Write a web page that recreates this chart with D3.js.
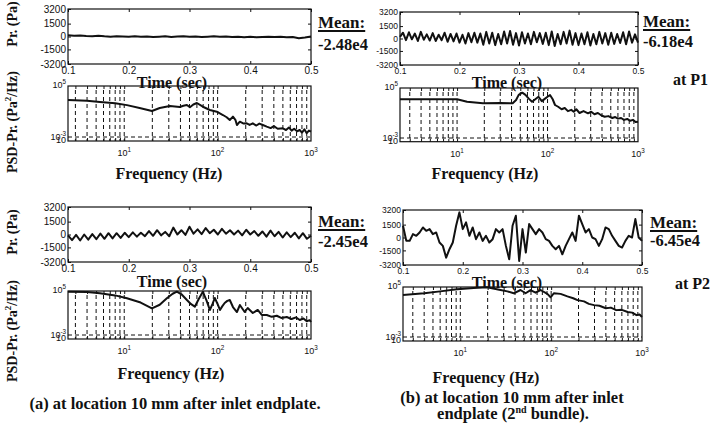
<!DOCTYPE html>
<html>
<head>
<meta charset="utf-8">
<title>Pressure fluctuation and PSD</title>
<script src="https://cdn.jsdelivr.net/npm/d3@7/dist/d3.min.js"></script>
<style>
  body { margin: 0; background: #fff; }
  svg { display: block; }
</style>
</head>
<body>
<svg id="chart" width="718" height="426"></svg>
<script>
// ---- data ----
var timeTicks = [0.1, 0.2, 0.3, 0.4, 0.5];
var presTicks = [-3200, -1500, 0, 1500, 3200];
var freqLabels = [10, 100, 1000];
var meanLabels = ['-2.48e4', '-6.18e4', '-2.45e4', '-6.45e4'];
var pointLabels = ['at P1', 'at P2'];

// pressure (Pa), equally spaced samples from 0.1 s to 0.5 s
var presA1 = [150, 100, 120, 60, 40, 80, 20, -20, 30, 0, -40, 20, -30, 10, -60, -20, 30, -50, -10, 40,
  -30, 0, -60, -20, 20, -40, 10, -60, -30, -80, -40, -90, -50, -20, -70, -40, -80, -60, -200, -120, 0];
var presB1 = [200, 700, -200, 750, -100, 600, -300, 800, -150, 500, -250,
  650, -300, 450, -200, 700, -400, 550, -350, 600, -500,
  450, -600, 650, -450, 700, -500, 600, -750, 800, -600,
  700, -800, 550, -700, 850, -600, 900, -750, 650, -850,
  750, -600, 600, -700, 800, -450, 650, -650, 700, -800,
  850, -900, 550, -700, 800, -600, 950, -750, 650, -800,
  600, -700, 750, -850, 550, -700, 800, -600, 650, -750,
  700, -650, 550, -550, 750, -700, 850, -500, 500, -500];
var presA2 = [-100, -650, -50, -700, 0, -600, 50, -550, 100, -500, 150, -450, 150, -400, 200, -300, 250, -250, 200, -200,
  400, -150, 500, -100, 300, -200, 800, 0, 500, -50, 900, 100, 600, 50, 750, 150, 550, 0, 650, 100,
  500, 0, 450, -100, 550, 0, 400, -150, 350, -250, 450, -200, 300, -350, 250, -300, 200, -450, 150, -500, -150];
var presB2 = [1365, -390, -390, 390, 195, 585, 1170, 780, 975, 390,
  585, -585, -975, -2340, -1365, -585, 1365, 2925, 975, 1755,
  195, 1170, -195, 585, -390, 195, -585, -195, 975, 585,
  975, -975, -2535, 1365, 2535, -2730, 975, -1755, 1560, 975,
  390, 975, 585, -195, -390, -975, -1365, -975, -1950, -975,
  -195, 585, -390, 2535, 1560, 585, 975, 0, -195, -975,
  -195, 1170, 975, 195, -390, -975, -1170, -390, 195, 0,
  2145, 0, -390];

// PSD: frequency (Hz) and log10 of PSD (Pa^2/Hz)
var freqA1 = [2.5, 4, 5.5, 8, 10.7, 15, 19.8, 24, 30.8, 39.4, 43, 46.9, 50.5, 55, 60, 69.5, 82.6, 98, 114, 125,
  135, 146, 155, 161, 173, 190, 205, 220, 238, 260, 280, 305, 336, 370, 400, 440, 499, 540, 580, 620,
  660, 710, 757, 800, 850, 900, 950, 1000];
var psdA1 = [2.8, 2.7, 2.5, 2.3, 2.0, 1.5, 1.08, 1.55, 1.86, 1.71, 1.9, 2.02, 1.66, 2.1, 2.33, 1.75, 1.24, 0.97, 0.45, 0.1,
  -0.33, 0.19, -0.3, -1.12, -0.6, -0.9, -0.86, -1.1, -0.86, -1.2, -0.9, -1.12, -1.38, -1.6, -1.3, -1.7, -1.64, -1.9, -1.5, -2.0,
  -1.7, -2.1, -1.9, -2.3, -1.8, -2.4, -2.0, -2.17];
var freqB1 = [2.34, 4, 6, 10, 12.9, 19.3, 30, 41.2, 44.9, 48, 52.6, 57, 62, 67.4, 73.2, 79.5, 86.4, 93.9, 100, 106.5,
  114, 121, 131, 143, 155, 168, 183, 195, 208, 226, 250, 280, 304, 330, 360, 395, 428, 470, 520, 560,
  601, 650, 700, 760, 820, 880, 940, 1000];
var psdB1 = [3.19, 3.19, 3.19, 3.19, 2.81, 2.55, 2.6, 2.55, 3.08, 3.9, 4.25, 3.9, 3.3, 2.8, 3.2, 3.6, 2.9, 3.3, 3.6, 3.88,
  3.2, 2.28, 2.0, 1.6, 1.8, 1.3, 1.5, 1.2, 1.6, 1.0, 1.3, 0.95, 1.2, 0.8, 1.0, 0.6, 0.4, 0.5, 0.2, 0.35,
  0.1, 0.2, -0.1, 0.05, -0.25, -0.1, -0.45, -0.39];
var freqA2 = [2.5, 4, 5.5, 8, 10.7, 15, 19.8, 24, 28.6, 33, 36.6, 41, 46.9, 52, 57, 63, 69.5, 76, 82.6, 88,
  93.3, 100, 106, 112, 119, 127, 135, 146, 161, 173, 195, 210, 238, 269, 297, 336, 380, 430, 480, 550,
  620, 690, 757, 830, 900, 968, 1000];
var psdA2 = [4.87, 4.8, 4.58, 4.2, 3.67, 2.9, 1.85, 2.5, 3.67, 4.5, 4.87, 4.4, 3.36, 2.6, 2.15, 3.6, 4.85, 3.3, 1.55, 2.6,
  3.73, 2.6, 1.55, 2.2, 2.82, 3.2, 3.36, 2.09, 1.18, 2.45, 1.18, 1.91, 1.0, 1.55, 0.64, 0.64, 0.3, 0.5, 0.1, 0.27,
  -0.1, 0.2, -0.27, 0.0, -0.5, -0.3, -0.64];
var freqB2 = [2.34, 4, 6, 9.2, 14, 19.7, 27.7, 33, 38.8, 46, 52.3, 59.3, 67.4, 76.5, 90.8, 98.7, 107, 127, 151, 175,
  195, 230, 260, 297, 340, 400, 454, 520, 600, 695, 780, 870, 940, 1000];
var psdB2 = [3.72, 4.0, 4.3, 4.63, 4.85, 4.95, 4.52, 4.3, 3.99, 4.52, 4.0, 4.5, 4.1, 4.52, 3.9, 3.35, 4.0, 3.9, 3.5, 3.2,
  2.9, 2.7, 2.3, 2.1, 2.0, 1.6, 1.7, 1.3, 1.35, 1.0, 0.9, 0.5, 0.6, 0.2];

// ---- layout ----
var serif = '"Liberation Serif", "Times New Roman", serif';
var sans = '"Liberation Sans", Arial, sans-serif';
var ink = '#111';

var svg = d3.select('#chart');
svg.append('rect').attr('width', 718).attr('height', 426).attr('fill', '#fff');

var timeBoxes = [
  { x0: 68, x1: 311, y0: 9, y1: 64, fs: 10 },
  { x0: 400, x1: 638, y0: 12, y1: 65, fs: 8.5 },
  { x0: 68, x1: 311, y0: 207, y1: 262, fs: 10 },
  { x0: 403, x1: 642, y0: 210, y1: 265, fs: 8.5 }
];
var psdBoxes = [
  { x0: 68, x1: 311, y0: 86, yDash: 137, y1: 141, fMin: 2.5 },
  { x0: 400, x1: 638, y0: 88, yDash: 138, y1: 141.7, fMin: 2.34 },
  { x0: 68, x1: 311, y0: 291, yDash: 335, y1: 339, fMin: 2.5 },
  { x0: 403, x1: 642, y0: 287, yDash: 337, y1: 341, fMin: 2.34 }
];

function styleAxis(g, fs) {
  g.selectAll('.domain').remove();
  g.selectAll('.tick line').attr('stroke', ink);
  g.selectAll('.tick text').attr('font-family', sans).attr('font-size', fs).attr('fill', ink);
}

function drawTime(b, vals) {
  var x = d3.scaleLinear().domain([0.1, 0.5]).range([b.x0, b.x1]);
  var y = d3.scaleLinear().domain([-3200, 3200]).range([b.y1, b.y0]);
  var idx = d3.scaleLinear().domain([0, vals.length - 1]).range([0.1, 0.5]);
  var g = svg.append('g');

  g.append('g').attr('transform', 'translate(0,' + b.y1 + ')')
    .call(d3.axisBottom(x).tickValues(timeTicks).tickSize(-3).tickPadding(3)
      .tickFormat(function(d) { return d.toFixed(1); }));
  g.append('g').attr('transform', 'translate(0,' + b.y0 + ')')
    .call(d3.axisTop(x).tickValues(timeTicks).tickSize(-3).tickFormat(''));
  g.append('g').attr('transform', 'translate(' + b.x0 + ',0)')
    .call(d3.axisLeft(y).tickValues(presTicks).tickSize(-3).tickPadding(2)
      .tickFormat(function(d) { return String(d); }));
  g.append('g').attr('transform', 'translate(' + b.x1 + ',0)')
    .call(d3.axisRight(y).tickValues(presTicks).tickSize(-3).tickFormat(''));
  styleAxis(g, b.fs);

  g.append('path').datum(vals)
    .attr('fill', 'none').attr('stroke', ink).attr('stroke-width', 2)
    .attr('stroke-linejoin', 'round')
    .attr('d', d3.line().x(function(d, i) { return x(idx(i)); }).y(function(d) { return y(d); }));

  g.append('rect').attr('x', b.x0).attr('y', b.y0)
    .attr('width', b.x1 - b.x0).attr('height', b.y1 - b.y0)
    .attr('fill', 'none').attr('stroke', ink).attr('stroke-width', 1.2);
}

function powLabel(g, x, y, base, exp, fs, anchor) {
  var t = g.append('text').attr('x', x).attr('y', y)
    .attr('font-family', sans).attr('font-size', fs).attr('fill', ink)
    .attr('text-anchor', anchor);
  t.append('tspan').text(base);
  if (exp !== '') {
    t.append('tspan').attr('font-size', fs * 0.7).attr('dy', -fs * 0.45).text(exp);
  }
}

function drawPsd(b, freqs, exps) {
  var x = d3.scaleLog().domain([b.fMin, 1000]).range([b.x0, b.x1]);
  var y = d3.scaleLog().domain([1e-3, 1e5]).range([b.yDash, b.y0]);
  var g = svg.append('g');
  var grid = x.ticks().filter(function(f) { return f > b.fMin && f < 1000; });

  g.selectAll('line.vgrid').data(grid).join('line').attr('class', 'vgrid')
    .attr('x1', function(d) { return x(d); }).attr('x2', function(d) { return x(d); })
    .attr('y1', b.y0 + 4).attr('y2', b.y1)
    .attr('stroke', ink).attr('stroke-width', 1).attr('stroke-dasharray', '4,3');
  g.append('line')
    .attr('x1', b.x0).attr('x2', b.x1).attr('y1', y(1e-3)).attr('y2', y(1e-3))
    .attr('stroke', ink).attr('stroke-width', 1).attr('stroke-dasharray', '4,3');

  g.append('g').attr('transform', 'translate(0,' + b.y1 + ')')
    .call(d3.axisBottom(x).tickValues(grid).tickSize(-3).tickFormat(''));
  g.append('g').attr('transform', 'translate(0,' + b.y0 + ')')
    .call(d3.axisTop(x).tickValues(grid).tickSize(-3).tickFormat(''));
  styleAxis(g, 9);

  freqLabels.forEach(function(f) {
    powLabel(g, x(f), b.y1 + 15, '10', String(Math.round(Math.log10(f))), 9, 'middle');
  });
  powLabel(g, b.x0 - 2, b.y0 + 2, '10', '5', 9, 'end');
  // the two bottom labels sit on top of each other in the original
  powLabel(g, b.x0 - 2, b.y1 + 2, '10', '', 9, 'end');
  powLabel(g, b.x0 - 2, y(1e-3) + 3, '10', '-3', 9, 'end');

  g.append('path').datum(exps)
    .attr('fill', 'none').attr('stroke', ink).attr('stroke-width', 2)
    .attr('stroke-linejoin', 'round')
    .attr('d', d3.line()
      .x(function(d, i) { return x(freqs[i]); })
      .y(function(d) { return y(Math.pow(10, d)); }));

  g.append('rect').attr('x', b.x0).attr('y', b.y0)
    .attr('width', b.x1 - b.x0).attr('height', b.y1 - b.y0)
    .attr('fill', 'none').attr('stroke', ink).attr('stroke-width', 1.2);
}

var presSeries = [presA1, presB1, presA2, presB2];
var freqSeries = [freqA1, freqB1, freqA2, freqB2];
var psdSeries = [psdA1, psdB1, psdA2, psdB2];

timeBoxes.forEach(function(b, i) { drawTime(b, presSeries[i]); });
psdBoxes.forEach(function(b, i) { drawPsd(b, freqSeries[i], psdSeries[i]); });

// ---- text labels ----
function boldText(x, y, fs, str, anchor) {
  return svg.append('text').attr('x', x).attr('y', y)
    .attr('font-family', serif).attr('font-weight', 'bold')
    .attr('font-size', fs).attr('fill', ink)
    .attr('text-anchor', anchor || 'middle').text(str);
}

var timeLabelPos = [[172, 88], [507, 88], [172, 287], [507, 288]];
timeLabelPos.forEach(function(p) { boldText(p[0], p[1], 16, 'Time (sec)'); });

var freqLabelPos = [[169, 179], [485, 179], [171, 379], [486, 383]];
freqLabelPos.forEach(function(p) { boldText(p[0], p[1], 16, 'Frequency (Hz)'); });

var meanPos = [[318, 28, 50], [643, 27, 47], [318, 227, 247], [650, 228, 246]];
meanPos.forEach(function(p, i) {
  var t = boldText(p[0], p[1], 17, 'Mean:', 'start');
  var w = t.node().getComputedTextLength();
  svg.append('line').attr('x1', p[0]).attr('x2', p[0] + w)
    .attr('y1', p[1] + 3).attr('y2', p[1] + 3)
    .attr('stroke', ink).attr('stroke-width', 1.8);
  boldText(p[0], p[2], 16.5, meanLabels[i], 'start');
});

boldText(673, 85, 16, pointLabels[0], 'start');
boldText(675, 289, 16, pointLabels[1], 'start');

// rotated y labels
[[17, 24], [17, 232]].forEach(function(p) {
  svg.append('text').attr('transform', 'translate(' + p[0] + ',' + p[1] + ') rotate(-90)')
    .attr('font-family', serif).attr('font-weight', 'bold').attr('font-size', 14)
    .attr('fill', ink).attr('text-anchor', 'middle').text('Pr. (Pa)');
});
[[17, 122], [17, 331]].forEach(function(p) {
  var t = svg.append('text').attr('transform', 'translate(' + p[0] + ',' + p[1] + ') rotate(-90)')
    .attr('font-family', serif).attr('font-weight', 'bold').attr('font-size', 14)
    .attr('fill', ink).attr('text-anchor', 'middle');
  t.append('tspan').text('PSD-Pr. (Pa');
  t.append('tspan').attr('font-size', 9).attr('dy', -6).text('2');
  t.append('tspan').attr('dy', 6).text('/Hz)');
});

// captions
boldText(175, 409, 16.5, '(a) at location 10 mm after inlet endplate.');
boldText(512, 403, 16.5, '(b) at location 10 mm after inlet');
var cap = boldText(513, 419, 16.5, '');
cap.append('tspan').text('endplate (2');
cap.append('tspan').attr('font-size', 10).attr('dy', -6).text('nd');
cap.append('tspan').attr('dy', 6).text(' bundle).');
</script>
</body>
</html>
